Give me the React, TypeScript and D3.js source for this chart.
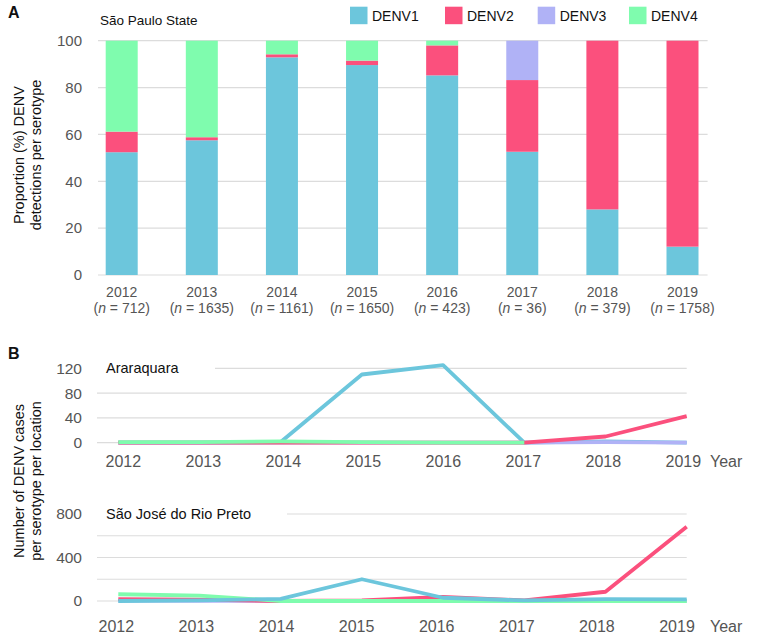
import React from "react";
import * as d3 from "d3";

const years = ["2012", "2013", "2014", "2015", "2016", "2017", "2018", "2019"];
const sampleSizes = [712, 1635, 1161, 1650, 423, 36, 379, 1758];
const serotypes = ["DENV1", "DENV2", "DENV3", "DENV4"];
const colors = ["#6cc6dc", "#fb507d", "#b0b2f6", "#7ffcae"];

// Panel A proportions (%)
const propDENV1 = [52.4, 57.5, 92.9, 89.6, 85.2, 52.6, 28.0, 12.1];
const propDENV2 = [8.8, 1.3, 1.3, 1.9, 12.8, 30.6, 72.0, 87.9];
const propDENV3 = [0, 0, 0, 0, 0, 16.8, 0, 0];
const propDENV4 = [38.8, 41.2, 5.8, 8.5, 2.0, 0, 0, 0];
const propTicks = [0, 20, 40, 60, 80, 100];

// Panel B: Araraquara counts
const araDENV1 = [0, 0, 1, 110, 125, 0, 2, 0];
const araDENV2 = [0, 0, 0, 0, 0, 0, 10, 43];
const araDENV3 = [0, 0, 0, 0, 0, 0, 1, 0];
const araDENV4: (number | null)[] = [1, 1, 2, 1, 0, 0, null, null];
const araTicks = [0, 40, 80, 120];

// Panel B: São José do Rio Preto counts
const sjDENV1 = [0, 5, 20, 200, 30, 5, 18, 15];
const sjDENV2 = [18, 12, 0, 5, 38, 5, 85, 683];
const sjDENV3 = [3, 2, 0, 0, 0, 0, 0, 0];
const sjDENV4 = [62, 50, 0, 0, 0, 0, 0, 0];
const sjTicks = [0, 400, 800];
const sjGrid = [0, 200, 400, 600, 800];

const FONT = "'Liberation Sans', Arial, Helvetica, sans-serif";
const GRID = "#dcdcdc";
const TXT = "#555";

function BarPanel() {
  const xc = d3.scalePoint<string>().domain(years).range([121.7, 682.5]);
  const y = d3.scaleLinear().domain([0, 100]).range([275, 40.7]);
  const table = years.map((yr, i) => ({
    year: yr,
    DENV1: propDENV1[i],
    DENV2: propDENV2[i],
    DENV3: propDENV3[i],
    DENV4: propDENV4[i],
  }));
  const stack = d3.stack<any>().keys(serotypes)(table);
  const bw = 32;
  return (
    <g>
      {propTicks.map((t) => (
        <g key={t}>
          <line x1={98} x2={707.6} y1={y(t)} y2={y(t)} stroke={GRID} strokeWidth={1.2} />
          <text x={82} y={y(t)} dy="0.35em" textAnchor="end" fontSize={15} fill={TXT}>
            {t}
          </text>
        </g>
      ))}
      {stack.map((s, si) => (
        <g key={s.key} fill={colors[si]}>
          {s.map((d, i) =>
            d[1] - d[0] > 0 ? (
              <rect key={i} x={xc(years[i])! - bw / 2} width={bw} y={y(d[1])} height={y(d[0]) - y(d[1])} />
            ) : null
          )}
        </g>
      ))}
      {years.map((yr, i) => (
        <g key={yr} fontSize={14} fill={TXT}>
          <text x={xc(yr)} y={296.5} textAnchor="middle">{yr}</text>
          <text x={xc(yr)} y={313} textAnchor="middle">
            (<tspan fontStyle="italic">n</tspan> = {sampleSizes[i]})
          </text>
        </g>
      ))}
      <text x={100} y={25} fontSize={13.5} fill="#111">São Paulo State</text>
      <text transform="translate(24,155) rotate(-90)" textAnchor="middle" fontSize={14.5} fill="#111">
        Proportion (%) DENV
      </text>
      <text transform="translate(41,155) rotate(-90)" textAnchor="middle" fontSize={14.5} fill="#111">
        detections per serotype
      </text>
      {serotypes.map((s, i) => {
        const lx = [350, 445, 537.7, 629][i];
        return (
          <g key={s}>
            <rect x={lx} y={6.7} width={17.5} height={17.5} fill={colors[i]} />
            <text x={lx + 22} y={21} fontSize={14} fill="#111">{s}</text>
          </g>
        );
      })}
    </g>
  );
}

function LinePanel(props: {
  title: string;
  titleW: number;
  y0: number;
  yTop: number;
  max: number;
  ticks: number[];
  grid: number[];
  series: (number | null)[][];
  order: number[];
  labelRange: [number, number];
  labelY: number;
}) {
  const { title, titleW, y0, yTop, max, ticks, grid, series, order, labelRange, labelY } = props;
  const x = d3.scalePoint<string>().domain(years).range([118.3, 686.7]);
  const xl = d3.scalePoint<string>().domain(years).range(labelRange);
  const y = d3.scaleLinear().domain([0, max]).range([y0, yTop]);
  const line = d3
    .line<number | null>()
    .defined((d) => d !== null)
    .x((_, i) => x(years[i])!)
    .y((d) => y(d as number));
  return (
    <g>
      {grid.map((t) => (
        <line key={t} x1={97} x2={686.7} y1={y(t)} y2={y(t)} stroke={GRID} strokeWidth={1.2} />
      ))}
      <rect x={97} y={y(max) - 12} width={titleW} height={20} fill="#fff" />
      <text x={106} y={y(max)} dy="0.35em" fontSize={14.5} fill="#111">{title}</text>
      {ticks.map((t) => (
        <text key={t} x={82} y={y(t)} dy="0.35em" textAnchor="end" fontSize={15.5} fill={TXT}>
          {t}
        </text>
      ))}
      {order.map((si) => (
        <path
          key={si}
          d={line(series[si]) || ""}
          fill="none"
          stroke={colors[si]}
          strokeWidth={3.8}
          strokeLinejoin="round"
        />
      ))}
      {years.map((yr) => (
        <text key={yr} x={xl(yr)} y={labelY} textAnchor="middle" fontSize={16} fill={TXT}>
          {yr}
        </text>
      ))}
      <text x={710} y={labelY} fontSize={16} fill={TXT}>Year</text>
    </g>
  );
}

export default function App() {
  return (
    <svg
      width={757}
      height={642}
      style={{ position: "absolute", left: 0, top: 0, background: "#fff" }}
      fontFamily={FONT}
    >
      <rect width={757} height={642} fill="#fff" />
      <text x={8} y={18} fontSize={16} fontWeight="bold" fill="#111">A</text>
      <BarPanel />
      <text x={8} y={359} fontSize={16} fontWeight="bold" fill="#111">B</text>
      <LinePanel
        title="Araraquara"
        titleW={118}
        y0={442.7}
        yTop={368.3}
        max={120}
        ticks={araTicks}
        grid={araTicks}
        series={[araDENV1, araDENV2, araDENV3, araDENV4]}
        order={[0, 2, 1, 3]}
        labelRange={[123.3, 683.3]}
        labelY={466.7}
      />
      <LinePanel
        title="São José do Rio Preto"
        titleW={190}
        y0={601}
        yTop={514}
        max={800}
        ticks={sjTicks}
        grid={sjGrid}
        series={[sjDENV1, sjDENV2, sjDENV3, sjDENV4]}
        order={[2, 1, 3, 0]}
        labelRange={[116.3, 677]}
        labelY={631.7}
      />
      <text transform="translate(24,481) rotate(-90)" textAnchor="middle" fontSize={14.5} fill="#111">
        Number of DENV cases
      </text>
      <text transform="translate(41,481) rotate(-90)" textAnchor="middle" fontSize={14.5} fill="#111">
        per serotype per location
      </text>
    </svg>
  );
}
